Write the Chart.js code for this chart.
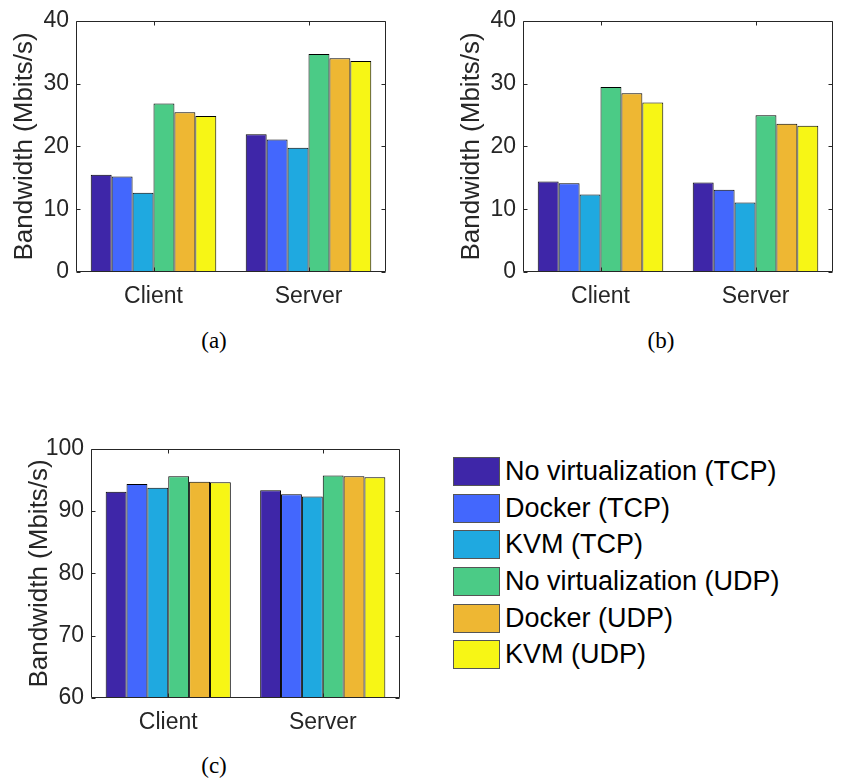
<!DOCTYPE html>
<html>
<head>
<meta charset="utf-8">
<title>Bandwidth</title>
<script src="https://cdn.jsdelivr.net/npm/chart.js@4.4.1/dist/chart.umd.min.js"></script>
<style>
  body { margin: 0; width: 841px; height: 782px; overflow: hidden; background: #fff; position: relative; font-family: 'Liberation Sans', Arial, sans-serif; }
  canvas { position: absolute; }
  .caption { position: absolute; font-family: 'Liberation Serif', 'Times New Roman', serif; font-size: 23px; color: #000; transform: translate(-50%, -50%); }
  #legend { position: absolute; left: 453px; top: 453px; }
  .row { display: flex; align-items: center; height: 36.7px; }
  .swatch { width: 47px; height: 29px; border: 1px solid #555; box-sizing: border-box; margin-right: 5px; flex: none; }
  .row span { font-size: 27px; color: #000; white-space: nowrap; line-height: 1; }
</style>
</head>
<body>
<canvas id="chartA" width="400" height="320" style="left:0px;top:0px"></canvas>
<canvas id="chartB" width="394" height="320" style="left:447px;top:0px"></canvas>
<canvas id="chartC" width="400" height="318" style="left:15px;top:428px"></canvas>
<div class="caption" style="left:214px;top:341px">(a)</div>
<div class="caption" style="left:661px;top:341px">(b)</div>
<div class="caption" style="left:214px;top:766px">(c)</div>
<div id="legend"></div>

<script>
// data
const categories = ['Client', 'Server'];
const seriesLabels = [
    'No virtualization (TCP)', 'Docker (TCP)', 'KVM (TCP)',
    'No virtualization (UDP)', 'Docker (UDP)', 'KVM (UDP)'
];
const seriesColors = ['#3E26A8', '#4367FD', '#1FA9E0', '#4BCB86', '#EEB733', '#F7F615'];

// one row per series: [Client, Server]
const panelA = [[15.5, 21.95], [15.2, 21.1], [12.6, 19.8], [26.85, 34.7], [25.45, 34.05], [24.85, 33.6]];
const panelB = [[14.4, 14.25], [14.15, 13.1], [12.35, 11.05], [29.45, 24.95], [28.45, 23.6], [27.0, 23.3]];
const panelC = [[93.1, 93.35], [94.35, 92.7], [93.75, 92.35], [95.6, 95.7], [94.7, 95.6], [94.65, 95.45]];

const yRangeAB = [0, 40];
const yRangeC = [60, 100];
const yStep = 10;

// matlab style box with ticks drawn inwards
const boxTicks = {
    id: 'boxTicks',
    afterDraw(chart) {
        const { ctx, chartArea: a, scales } = chart;
        const L = Math.round(a.left) + 0.5, R = Math.round(a.right) - 0.5;
        const T = Math.round(a.top) + 0.5, B = Math.round(a.bottom) - 0.5;
        const len = 4;
        ctx.save();
        ctx.strokeStyle = '#262626';
        ctx.lineWidth = 1;
        ctx.beginPath();
        ctx.rect(L, T, R - L, B - T);
        scales.y.ticks.forEach(t => {
            const y = Math.round(scales.y.getPixelForValue(t.value)) + 0.5;
            ctx.moveTo(L, y); ctx.lineTo(L + len, y);
            ctx.moveTo(R, y); ctx.lineTo(R - len, y);
        });
        scales.x.ticks.forEach((t, i) => {
            const x = Math.round(scales.x.getPixelForTick(i)) + 0.5;
            ctx.moveTo(x, B); ctx.lineTo(x, B - len);
            ctx.moveTo(x, T); ctx.lineTo(x, T + len);
        });
        ctx.stroke();
        ctx.restore();
    }
};

function makeChart(id, rows, yRange, padRight) {
    const ctx = document.getElementById(id).getContext('2d');
    return new Chart(ctx, {
        type: 'bar',
        data: {
            labels: categories,
            datasets: rows.map((vals, i) => ({
                label: seriesLabels[i],
                data: vals,
                backgroundColor: seriesColors[i],
                borderColor: '#000',
                borderWidth: 1,
                categoryPercentage: 0.81,
                barPercentage: 1.0
            }))
        },
        options: {
            responsive: false,
            animation: false,
            layout: { padding: { left: 0, top: 15, right: padRight, bottom: 0 } },
            plugins: { legend: { display: false }, tooltip: { enabled: false } },
            scales: {
                x: {
                    grid: { display: false, drawTicks: false },
                    border: { display: false },
                    ticks: { color: '#262626', font: { family: "'Liberation Sans', Arial", size: 23 }, padding: 11 },
                    afterFit: s => { s.height = 48; }
                },
                y: {
                    min: yRange[0],
                    max: yRange[1],
                    grid: { display: false, drawTicks: false },
                    border: { display: false },
                    ticks: { stepSize: yStep, color: '#262626', font: { family: "'Liberation Sans', Arial", size: 23 }, padding: 7 },
                    title: {
                        display: true,
                        text: 'Bandwidth (Mbits/s)',
                        color: '#262626',
                        font: { family: "'Liberation Sans', Arial", size: 26 },
                        padding: { top: 9, bottom: 0 }
                    },
                    afterFit: s => { s.width = 76; }
                }
            }
        },
        plugins: [boxTicks]
    });
}

makeChart('chartA', panelA, yRangeAB, 14);
makeChart('chartB', panelB, yRangeAB, 8);
makeChart('chartC', panelC, yRangeC, 15);

// legend (no box, like the figure)
const legendEl = document.getElementById('legend');
seriesLabels.forEach((name, i) => {
    const row = document.createElement('div');
    row.className = 'row';
    row.innerHTML = `<div class="swatch" style="background:${seriesColors[i]}"></div><span>${name}</span>`;
    legendEl.appendChild(row);
});
</script>
</body>
</html>
